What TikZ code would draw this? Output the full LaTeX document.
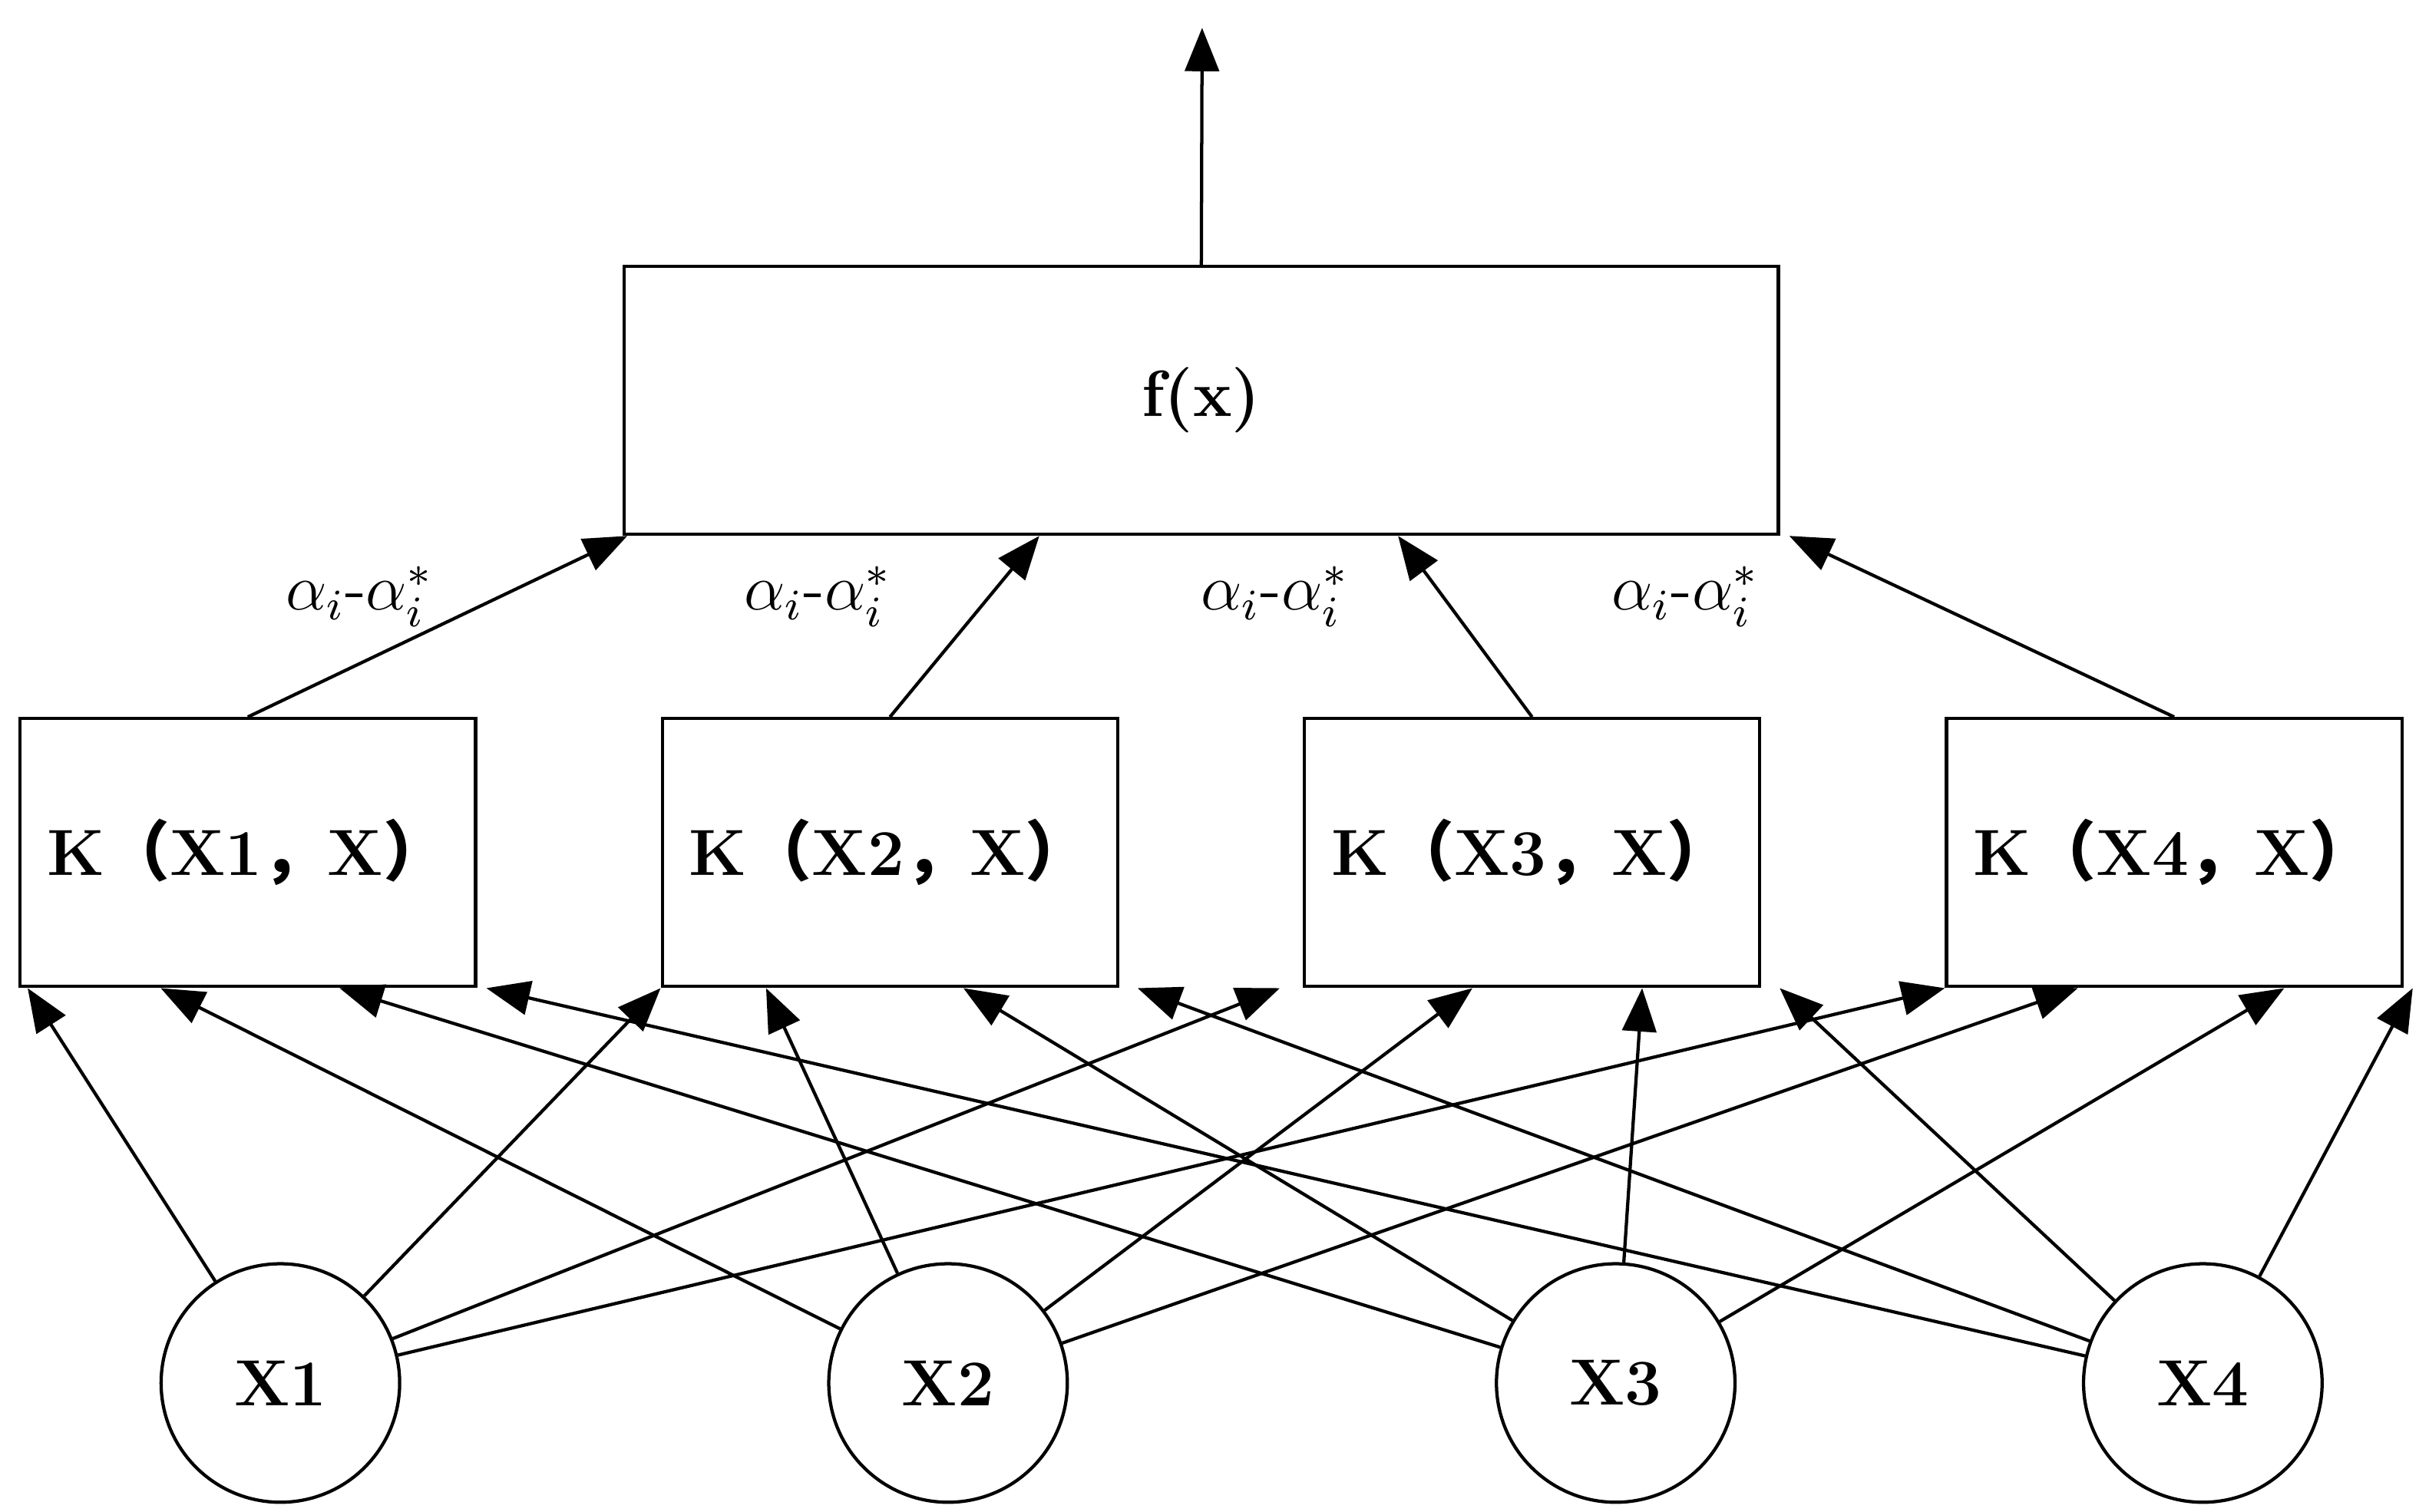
\documentclass[tikz,border=0pt]{standalone}
\usepackage{fontspec}
\newfontfamily\cjk{Noto Sans CJK SC}
\usetikzlibrary{arrows.meta,calc}
\tikzset{
	box/.style={draw, line width=0.6pt, rectangle, inner sep=0pt, font=\large\bfseries},
	unit/.style={draw, line width=0.6pt, circle, minimum size=15.4mm, inner sep=0pt, font=\large\bfseries},
	link/.style={line width=0.6pt, -{Triangle[length=2.8mm,width=2.2mm]}},
	wlabel/.style={font=\large}
}
\newcommand{\kbox}[1]{K{\cjk（}X#1{\cjk，}X{\cjk）}}
\begin{document}
\begin{tikzpicture}[x=0.1mm,y=-0.1mm]
	\useasboundingbox (0,0) rectangle (1568,976);

	\node (f) [box, minimum width=74.5mm, minimum height=17.3mm] at (775.5,258.5) {f(x)};
	\coordinate (out) at (776,18);
	\draw [link] (f.north) -- (out);

	\node (k1) [box, minimum width=29.4mm, minimum height=17.3mm] at (160,550.5) {\kbox{1}};
	\node (k2) [box, minimum width=29.4mm, minimum height=17.3mm] at (574.5,550.5) {\kbox{2}};
	\node (k3) [box, minimum width=29.4mm, minimum height=17.3mm] at (989,550.5) {\kbox{3}};
	\node (k4) [box, minimum width=29.4mm, minimum height=17.3mm] at (1403.5,550.5) {\kbox{4}};

	\node (x1) [unit] at (181,893) {X1};
	\node (x2) [unit] at (612,893) {X2};
	\node (x3) [unit] at (1043,893) {X3};
	\node (x4) [unit] at (1422,893) {X4};

	\node (w1) [wlabel] at (232,385) {$\alpha_{i}$-$\alpha_{i}^{*}$};
	\node (w2) [wlabel] at (528,385) {$\alpha_{i}$-$\alpha_{i}^{*}$};
	\node (w3) [wlabel] at (823,385) {$\alpha_{i}$-$\alpha_{i}^{*}$};
	\node (w4) [wlabel] at (1088,385) {$\alpha_{i}$-$\alpha_{i}^{*}$};

	\draw [link] (k1.north) -- ($(f.south west)+(3,0)$);
	\draw [link] (k2.north) -- ($(f.south west)!0.36!(f.south east)$);
	\draw [link] (k3.north) -- ($(f.south west)!0.67!(f.south east)$);
	\draw [link] (k4.north) -- ($(f.south east)+(6,0)$);

	% inputs to kernels
	\foreach \k/\a/\b/\c/\d in {k1/0.02/0.31/0.70/1.02, k2/0.0/0.23/0.66/1.04, k3/-0.05/0.37/0.74/1.04, k4/0.0/0.29/0.74/1.02} {
		\draw [link] (x1) -- ($(\k.south west)!\a!(\k.south east)$);
		\draw [link] (x2) -- ($(\k.south west)!\b!(\k.south east)$);
		\draw [link] (x3) -- ($(\k.south west)!\c!(\k.south east)$);
		\draw [link] (x4) -- ($(\k.south west)!\d!(\k.south east)$);
	}
\end{tikzpicture}
\end{document}
